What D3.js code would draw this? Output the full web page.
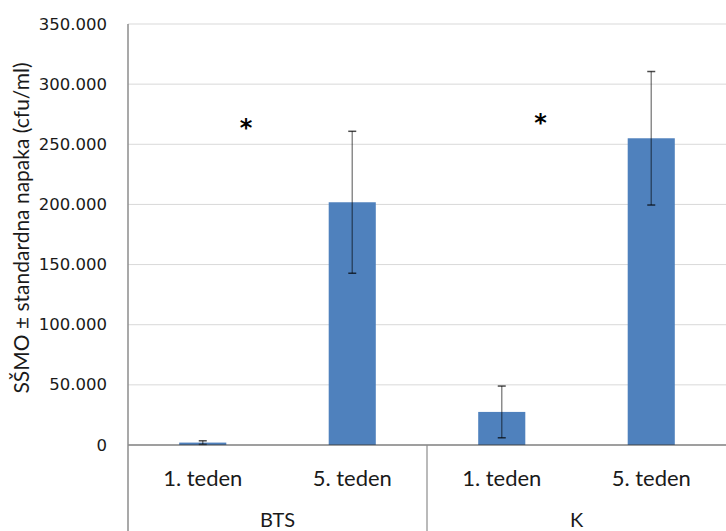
<!DOCTYPE html>
<html>
<head>
<meta charset="utf-8">
<script src="https://cdn.jsdelivr.net/npm/d3@7"></script>
<style>
  html, body { margin: 0; padding: 0; background: #fff; }
  svg { display: block; }
</style>
</head>
<body>
<svg id="chart" width="726" height="531"></svg>
<script>
// Data: mean counts with standard error, per group and week
const groups = ["BTS", "K"];
const weeks = ["1. teden", "5. teden"];
const means = [2000, 201800, 27500, 255000];
const errors = [1500, 59000, 21500, 55500];
const yTicks = [0, 50000, 100000, 150000, 200000, 250000, 300000, 350000];
// significance markers: group and height (data units)
const markerGroups = ["BTS", "K"];
const markerValues = [264000, 268500];

const svg = d3.select("#chart");
const W = 726, H = 531;
const plotLeft = 128, plotRight = 726, plotTop = 24, zeroY = 445;

const bars = [];
groups.forEach((g, gi) => weeks.forEach((w, wi) => {
  const i = gi * weeks.length + wi;
  bars.push({ key: g + "|" + w, group: g, week: w, mean: means[i], err: errors[i] });
}));

const x = d3.scaleBand().domain(bars.map(d => d.key)).range([plotLeft, plotRight]).paddingInner(0).paddingOuter(0);
const y = d3.scaleLinear().domain([0, 350000]).range([zeroY, plotTop]);

const fmt = v => v === 0 ? "0" : d3.format(",")(v).replace(/,/g, ".");

// gridlines
svg.append("g").selectAll("line").data(yTicks.filter(t => t > 0)).join("line")
  .attr("x1", plotLeft).attr("x2", plotRight)
  .attr("y1", d => y(d)).attr("y2", d => y(d))
  .attr("stroke", "#d9d9d9").attr("stroke-width", 1);

// y tick labels
svg.append("g").selectAll("text").data(yTicks).join("text")
  .attr("x", 107).attr("y", d => y(d))
  .attr("text-anchor", "end").attr("dominant-baseline", "central")
  .attr("font-family", "DejaVu Sans").attr("font-size", 16.5).attr("fill", "#1a1a1a")
  .text(fmt);

// bars
const bw = x.bandwidth() * 0.315;
svg.append("g").selectAll("rect").data(bars).join("rect")
  .attr("x", d => x(d.key) + (x.bandwidth() - bw) / 2)
  .attr("width", bw)
  .attr("y", d => y(d.mean))
  .attr("height", d => y(0) - y(d.mean))
  .attr("fill", "#4f81bd");

// error bars
const eb = svg.append("g").attr("stroke", "#000").attr("stroke-opacity", 0.45).attr("stroke-width", 1.5);
bars.forEach(d => {
  const cx = x(d.key) + x.bandwidth() / 2;
  const y1 = y(d.mean + d.err), y2 = y(Math.max(0, d.mean - d.err));
  eb.append("line").attr("x1", cx).attr("x2", cx).attr("y1", y1).attr("y2", y2);
  eb.append("line").attr("x1", cx - 4).attr("x2", cx + 4).attr("y1", y1).attr("y2", y1).attr("stroke-opacity", 0.7);
  eb.append("line").attr("x1", cx - 4).attr("x2", cx + 4).attr("y1", y2).attr("y2", y2).attr("stroke-opacity", 0.7);
});

// axes
svg.append("line").attr("x1", plotLeft).attr("x2", plotRight).attr("y1", y(0)).attr("y2", y(0))
  .attr("stroke", "#404040").attr("stroke-width", 1.2);
svg.append("line").attr("x1", plotLeft).attr("x2", plotLeft).attr("y1", plotTop).attr("y2", H)
  .attr("stroke", "#8c8c8c").attr("stroke-width", 1.5);
// group separators
groups.slice(1).forEach(g => {
  const gx = x(g + "|" + weeks[0]);
  svg.append("line").attr("x1", gx).attr("x2", gx).attr("y1", y(0)).attr("y2", H)
    .attr("stroke", "#8c8c8c").attr("stroke-width", 1.2);
});

// category labels
svg.append("g").selectAll("text").data(bars).join("text")
  .attr("x", d => x(d.key) + x.bandwidth() / 2).attr("y", 477)
  .attr("text-anchor", "middle").attr("dominant-baseline", "central")
  .attr("font-family", "Lato, 'Open Sans', sans-serif").attr("font-size", 22).attr("fill", "#1a1a1a")
  .text(d => d.week);

// group labels
svg.append("g").selectAll("text").data(groups).join("text")
  .attr("x", g => {
    const a = x(g + "|" + weeks[0]), b = x(g + "|" + weeks[weeks.length - 1]) + x.bandwidth();
    return (a + b) / 2;
  })
  .attr("y", 519)
  .attr("text-anchor", "middle").attr("dominant-baseline", "central")
  .attr("font-family", "Lato, 'Open Sans', sans-serif").attr("font-size", 20).attr("fill", "#1a1a1a")
  .text(g => g);

// significance markers
svg.append("g").selectAll("text").data(markerGroups).join("text")
  .attr("x", (g, i) => x(g + "|" + weeks[0]) + x.bandwidth() * (i === 0 ? 0.79 : 0.76))
  .attr("y", (g, i) => y(markerValues[i]) + 9)
  .attr("text-anchor", "middle")
  .attr("font-family", "DejaVu Sans").attr("font-weight", "bold").attr("font-size", 24).attr("fill", "#000")
  .text("*");

// y axis title
svg.append("text")
  .attr("transform", "translate(20,228) rotate(-90)")
  .attr("text-anchor", "middle").attr("dominant-baseline", "central")
  .attr("font-family", "Lato, 'Open Sans', sans-serif").attr("font-size", 21).attr("fill", "#1a1a1a")
  .text("SŠMO ± standardna napaka (cfu/ml)");
</script>
</body>
</html>
